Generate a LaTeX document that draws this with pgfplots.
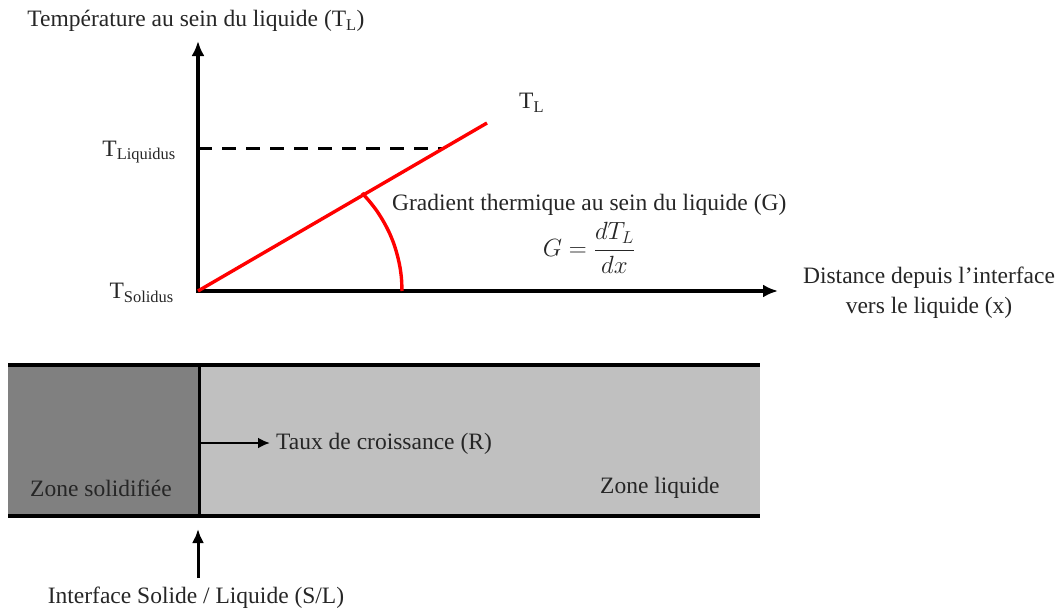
\documentclass[border=0pt]{standalone}
\usepackage{pgfplots}
\pgfplotsset{compat=1.18}
\usepackage{fontspec}
\setmainfont{Liberation Serif}
\usetikzlibrary{arrows.meta}
\definecolor{darkzone}{RGB}{128,128,128}
\definecolor{lightzone}{RGB}{192,192,192}
\definecolor{redline}{RGB}{255,0,0}
\newcommand\fz{\fontsize{23.5}{27}\selectfont}
\begin{document}
\begin{tikzpicture}
\begin{axis}[
  width=1063pt, height=613pt, scale only axis,
  xmin=0, xmax=1063, ymin=0, ymax=613, y dir=reverse,
  axis lines=none, clip=false,
]
% bounding box
\addplot[draw=none, forget plot] coordinates {(0,0) (1063,613)};
% bottom band
\addplot[fill=darkzone, draw=none] coordinates {(8,365) (198,365) (198,516) (8,516)} -- cycle;
\addplot[fill=lightzone, draw=none] coordinates {(198,365) (760,365) (760,516) (198,516)} -- cycle;
\addplot[black, line width=3.6pt] coordinates {(8,365) (760,365)};
\addplot[black, line width=3.6pt] coordinates {(8,516) (760,516)};
\addplot[black, line width=3pt] coordinates {(199,365) (199,516)};
% growth-rate arrow
\addplot[black, line width=2.8pt, -{Latex[length=12pt,width=11pt]}] coordinates {(199,443) (270,443)};
% interface arrow
\addplot[black, line width=3pt, -{Latex[length=14pt,width=12pt]}] coordinates {(198,578) (198,529)};
% axes
\addplot[black, line width=3.4pt, -{Latex[length=15pt,width=13pt]}] coordinates {(198,293) (198,41)};
\addplot[black, line width=3.4pt, -{Latex[length=15pt,width=13pt]}] coordinates {(196,291) (778,291)};
% liquidus dashed
\addplot[black, line width=3pt, dash pattern=on 14pt off 10pt] coordinates {(198,148) (444,148)};
% T_L line
\addplot[redline, line width=3.4pt] coordinates {(198,291) (487,123)};
% angle arc
\addplot[redline, line width=3.4pt, smooth] coordinates {(362,193) (369.2,201) (376.7,210.7) (383.2,221) (388.9,231.8) (393.6,243.1) (397.2,254.8) (399.9,266.7) (401.5,278.8) (402,291)};
% texts
\node[anchor=center, inner sep=0pt, text=black!85] at (axis cs:196,21) {\fz Température au sein du liquide (T\textsubscript{L})};
\node[anchor=east, inner sep=0pt, text=black!85] at (axis cs:176,152) {\fz T\textsubscript{Liquidus}};
\node[anchor=east, inner sep=0pt, text=black!85] at (axis cs:174,293) {\fz T\textsubscript{Solidus}};
\node[anchor=west, inner sep=0pt, text=black!85] at (axis cs:519,103) {\fz T\textsubscript{L}};
\node[anchor=west, inner sep=0pt, text=black!85] at (axis cs:392,205) {\fz Gradient thermique au sein du liquide (G)};
\node[anchor=center, inner sep=0pt, text=black!85] at (axis cs:589,248) {\fz $\displaystyle G=\frac{dT_L}{dx}$};
\node[anchor=center, inner sep=0pt, text=black!85] at (axis cs:929,278) {\fz Distance depuis l’interface};
\node[anchor=center, inner sep=0pt, text=black!85] at (axis cs:929,308) {\fz vers le liquide (x)};
\node[anchor=west, inner sep=0pt, text=black!85] at (axis cs:276,444) {\fz Taux de croissance (R)};
\node[anchor=west, inner sep=0pt, text=black!85] at (axis cs:30,488) {\fz Zone solidifiée};
\node[anchor=west, inner sep=0pt, text=black!85] at (axis cs:600,488) {\fz Zone liquide};
\node[anchor=center, inner sep=0pt, text=black!85] at (axis cs:196,598) {\fz Interface Solide / Liquide (S/L)};
\end{axis}
\end{tikzpicture}
\end{document}
